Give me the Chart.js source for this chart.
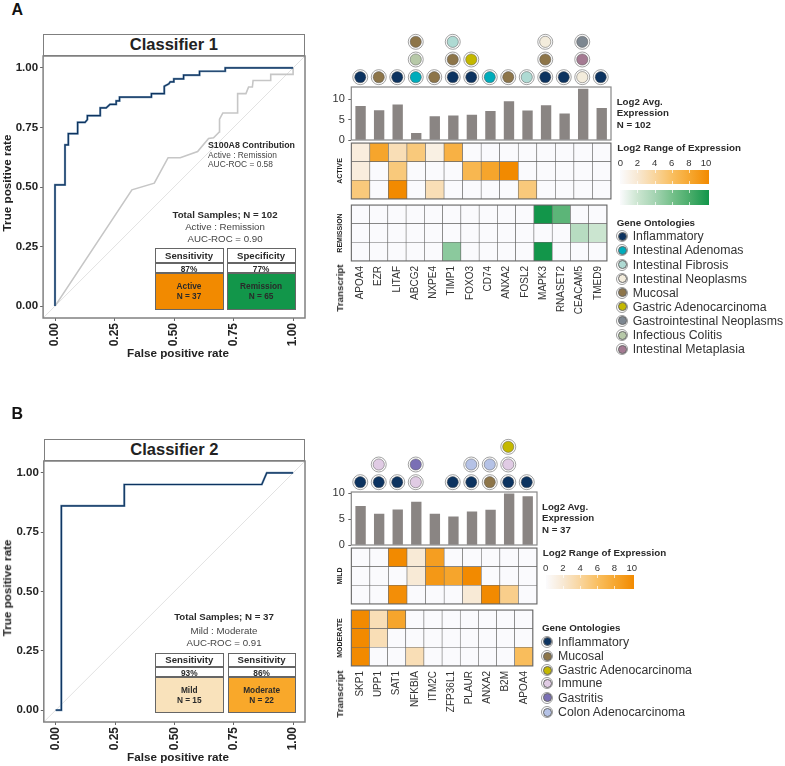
<!DOCTYPE html>
<html>
<head>
<meta charset="utf-8">
<script src="https://cdn.jsdelivr.net/npm/chart.js@4/dist/chart.umd.min.js"></script>
<style>
html, body { margin: 0; padding: 0; background: #fff; }
#page { position: relative; width: 785px; height: 766px; overflow: hidden; font-family: "Liberation Sans", Arial, sans-serif; color: #2a2a2a; }
#page canvas { position: absolute; }
.t { position: absolute; white-space: nowrap; line-height: 1; }
.b { position: absolute; box-sizing: border-box; }
</style>
</head>
<body>
<div id="page"></div>
<script>
// ROC curves
const roc1Fpr = [0, 0, .042, .042, .056, .056, .095, .095, .126, .136, .136, .19, .19, .215, .231, .257, .257, .271, .271, .405, .405, .459, .459, .478, .484, .499, .499, .54, .54, .607, .607, .715, .715, 1];
const roc1Tpr = [0, .509, .509, .677, .677, .724, .724, .771, .771, .783, .80, .80, .832, .832, .847, .847, .862, .862, .877, .877, .892, .892, .923, .933, .941, .941, .954, .954, .97, .97, .986, .986, 1, 1];
const s100a8Fpr = [0, .323, .417, .475, .526, .599, .645, .666, .69, .691, .705, .767, .767, .802, .813, .829, .832, .906, .906, 1, 1];
const s100a8Tpr = [0, .488, .516, .623, .623, .649, .704, .707, .731, .785, .811, .811, .892, .892, .92, .92, .947, .947, .973, .973, 1];
const roc2Fpr = [0, .024, .024, .289, .289, .868, .889, 1];
const roc2Tpr = [0, 0, .861, .861, .951, .951, 1, 1];
const chanceLine = [-0.05, 1.05];
const rocTicks = [0, .25, .5, .75, 1];

// classifier 1
const genes1 = ['APOA4', 'EZR', 'LITAF', 'ABCG2', 'NXPE4', 'TIMP1', 'FOXO3', 'CD74', 'ANXA2', 'FOSL2', 'MAPK3', 'RNASET2', 'CEACAM5', 'TMED9'];
const avg1 = [8.2, 7.2, 8.6, 1.6, 5.7, 5.9, 6.1, 7.0, 9.4, 7.1, 8.4, 6.4, 12.4, 7.7];
const active1 = [1.5, 8, 3, 5, 1.2, 7, null, null, null, null, null, null, null, null];
const active2 = [1.5, null, 5, null, null, null, 6.5, 8, 10, null, null, null, null, null];
const active3 = [5, null, 10, null, 3, null, null, null, null, 5, null, null, null, null];
const remission1 = [null, null, null, null, null, null, null, null, null, null, 10, 7, null, null];
const remission2 = [null, null, null, null, null, null, null, null, null, null, null, null, 3, 2];
const remission3 = [null, null, null, null, null, 5, null, null, null, null, 10, null, null, null];
const onto1 = [['Inflammatory'], ['Mucosal'], ['Inflammatory'], ['Intestinal Adenomas', 'Infectious Colitis', 'Mucosal'], ['Mucosal'],
    ['Inflammatory', 'Mucosal', 'Intestinal Fibrosis'], ['Inflammatory', 'Gastric Adenocarcinoma'], ['Intestinal Adenomas'], ['Mucosal'], ['Intestinal Fibrosis'],
    ['Inflammatory', 'Mucosal', 'Intestinal Neoplasms'], ['Inflammatory'], ['Intestinal Neoplasms', 'Intestinal Metaplasia', 'Gastrointestinal Neoplasms'], ['Inflammatory']];
const legend1 = ['Inflammatory', 'Intestinal Adenomas', 'Intestinal Fibrosis', 'Intestinal Neoplasms', 'Mucosal', 'Gastric Adenocarcinoma', 'Gastrointestinal Neoplasms', 'Infectious Colitis', 'Intestinal Metaplasia'];

// classifier 2
const genes2 = ['SKP1', 'UPP1', 'SAT1', 'NFKBIA', 'ITM2C', 'ZFP36L1', 'PLAUR', 'ANXA2', 'B2M', 'APOA4'];
const avg2 = [7.5, 6.0, 6.8, 8.3, 6.0, 5.45, 6.4, 6.75, 9.9, 9.35];
const mild1 = [null, null, 10, 1.8, 8.5, null, null, null, null, null];
const mild2 = [null, null, null, 1.8, 9, 8, 10, null, null, null];
const mild3 = [null, null, 9.7, null, null, null, 1.8, 10, 4.5, null];
const moderate1 = [10, 3, 8, null, null, null, null, null, null, null];
const moderate2 = [10, 3, null, null, null, null, null, null, null, null];
const moderate3 = [10, null, null, 3, null, null, null, null, null, 6];
const onto2 = [['Inflammatory'], ['Inflammatory', 'Immune'], ['Inflammatory'], ['Immune', 'Gastritis'], [], ['Inflammatory'],
    ['Inflammatory', 'Colon Adenocarcinoma'], ['Mucosal', 'Colon Adenocarcinoma'], ['Inflammatory', 'Immune', 'Gastric Adenocarcinoma'], ['Inflammatory']];
const legend2 = ['Inflammatory', 'Mucosal', 'Gastric Adenocarcinoma', 'Immune', 'Gastritis', 'Colon Adenocarcinoma'];

const rangeTicks = [0, 2, 4, 6, 8, 10];
const ontoColors = {
    'Inflammatory': '#0c3360', 'Intestinal Adenomas': '#00acbb', 'Intestinal Fibrosis': '#aedad3', 'Intestinal Neoplasms': '#f3ecdc',
    'Mucosal': '#8d7549', 'Gastric Adenocarcinoma': '#c4b800', 'Gastrointestinal Neoplasms': '#7d8791', 'Infectious Colitis': '#b7c9a8',
    'Intestinal Metaplasia': '#a47a92', 'Immune': '#e0cbe4', 'Gastritis': '#7a6fb5', 'Colon Adenocarcinoma': '#b5c2e6'
};
const orangeStops = ['#fbfbfd', '#f8e8d2', '#f9d49a', '#f9bd5c', '#f6a52c', '#f28a00'];
const greenStops = ['#fbfbfd', '#cbe5d0', '#a3d3b1', '#72bf88', '#46ab68', '#12964a'];

const page = document.getElementById('page');
const FONT = '"Liberation Sans", Arial, sans-serif';

function txt(s, x, y, size, o) {
    o = o || {};
    let el = document.createElement('div');
    el.className = 't';
    el.textContent = s;
    el.style.left = x + 'px';
    el.style.top = y + 'px';
    el.style.fontSize = size + 'px';
    if (o.bold) el.style.fontWeight = 'bold';
    if (o.color) el.style.color = o.color;
    let tx = o.center ? '-50%' : '0';
    el.style.transform = 'translate(' + tx + ',-50%)' + (o.rot ? ' rotate(-90deg)' : '');
    page.appendChild(el);
}

function rect(x0, y0, x1, y1, fill, border) {
    let el = document.createElement('div');
    el.className = 'b';
    el.style.left = x0 + 'px';
    el.style.top = y0 + 'px';
    el.style.width = (x1 - x0) + 'px';
    el.style.height = (y1 - y0) + 'px';
    if (fill) el.style.background = fill;
    if (border) el.style.border = border;
    page.appendChild(el);
    return el;
}

// colour for a value on a 0-10 ramp with stops every 2 units
function ramp(stops, v) {
    if (v === null) return '#fafafd';
    let p = Math.min(v / 2, stops.length - 1.001), i = Math.floor(p), f = p - i;
    let a = stops[i], b = stops[i + 1], out = [];
    for (let k = 1; k < 7; k += 2) {
        let ca = parseInt(a.substr(k, 2), 16), cb = parseInt(b.substr(k, 2), 16);
        out.push(Math.round(ca + (cb - ca) * f));
    }
    return 'rgb(' + out.join(',') + ')';
}

const plotFrame = {
    id: 'plotFrame',
    afterDatasetsDraw(chart, args, o) {
        let a = chart.chartArea, ctx = chart.ctx;
        ctx.save();
        ctx.strokeStyle = o.color;
        ctx.lineWidth = o.width;
        ctx.strokeRect(a.left, a.top, a.right - a.left, a.bottom - a.top);
        ctx.restore();
    }
};

// canvas sized so the chart area lands exactly on the plot box
function makeChart(box, m, config) {
    let c = document.createElement('canvas');
    c.style.left = (box.l - m.l) + 'px';
    c.style.top = (box.t - m.t) + 'px';
    c.width = Math.round(box.r - box.l + m.l + m.r);
    c.height = Math.round(box.b - box.t + m.t + m.b);
    page.appendChild(c);
    config.options.responsive = false;
    config.options.animation = false;
    config.options.layout = { autoPadding: false, padding: { top: m.t, right: m.r, left: config.options.scales.y.display === false ? m.l : 0, bottom: config.options.scales.x.display === false ? m.b : 0 } };
    if (config.options.scales.y.display !== false) config.options.scales.y.afterFit = s => { s.width = m.l; };
    if (config.options.scales.x.display !== false) config.options.scales.x.afterFit = s => { s.height = m.b; };
    config.options.plugins = Object.assign({ legend: { display: false }, tooltip: { enabled: false } }, config.options.plugins);
    config.plugins = (config.plugins || []).concat([plotFrame]);
    return new Chart(c, config);
}

function xy(xs, ys) {
    return xs.map((x, i) => ({ x: x, y: ys[i] }));
}

function rocChart(box, curves) {
    let axis = () => ({
        type: 'linear', min: -0.05, max: 1.05,
        afterBuildTicks: s => { s.ticks = rocTicks.map(v => ({ value: v })); },
        grid: { display: true, drawOnChartArea: false, drawTicks: true, tickLength: 3, tickColor: '#666', tickWidth: 1 },
        border: { display: false }
    });
    let x = axis();
    x.ticks = { color: '#222', font: { family: FONT, size: 12, weight: 'bold' }, minRotation: 90, maxRotation: 90, padding: 2, autoSkip: false, callback: v => v.toFixed(2) };
    let y = axis();
    y.ticks = { color: '#222', font: { family: FONT, size: 11.5, weight: 'bold' }, padding: 2, autoSkip: false, callback: v => v.toFixed(2) };
    // first dataset is drawn on top
    let datasets = curves.concat([{ data: xy(chanceLine, chanceLine), borderColor: '#e2e2e2', borderWidth: 1, pointRadius: 0, showLine: true }]);
    return makeChart(box, { l: box.l, t: 10, r: 10, b: 32 }, {
        type: 'scatter',
        data: { datasets: datasets },
        options: { scales: { x: x, y: y }, plugins: { plotFrame: { color: '#808080', width: 1.5 } } }
    });
}

function barChart(box, genes, values, top) {
    return makeChart(box, { l: 26.3, t: 14, r: 4, b: 14 }, {
        type: 'bar',
        data: { labels: genes, datasets: [{ data: values, backgroundColor: '#8a8583', barThickness: 9.7 }] },
        options: {
            scales: {
                x: { display: false },
                y: {
                    min: 0, max: top,
                    afterBuildTicks: s => { s.ticks = [0, 5, 10].map(v => ({ value: v })); },
                    grid: { display: true, drawOnChartArea: false, drawTicks: true, tickLength: 3, tickColor: '#666', tickWidth: 1 },
                    border: { display: false },
                    ticks: { color: '#333', font: { family: FONT, size: 11 }, padding: 3.5 }
                }
            },
            plugins: { plotFrame: { color: '#888', width: 1.2 } }
        }
    });
}

function heatChart(box, genes, rows, stops, title, withLabels) {
    // stacked unit bars, first row on top
    let datasets = rows.slice().reverse().map(row => ({
        data: row.map(() => 1),
        backgroundColor: row.map(v => ramp(stops, v)),
        borderColor: '#666',
        borderWidth: 0.6,
        borderSkipped: false,
        barPercentage: 1,
        categoryPercentage: 1
    }));
    return makeChart(box, { l: 15.3, t: 3, r: 4, b: withLabels ? 62 : 2 }, {
        type: 'bar',
        data: { labels: genes, datasets: datasets },
        options: {
            scales: {
                x: withLabels ? {
                    stacked: true,
                    grid: { display: false, drawTicks: false }, border: { display: false },
                    ticks: { color: '#333', font: { family: FONT, size: 10 }, minRotation: 90, maxRotation: 90, padding: 5, autoSkip: false }
                } : { stacked: true, display: false },
                y: {
                    stacked: true, min: 0, max: 3,
                    grid: { display: false, drawTicks: false }, border: { display: false },
                    ticks: { display: false },
                    title: { display: true, text: title, color: '#222', font: { family: FONT, size: 7, weight: 'bold' }, padding: 0 }
                }
            },
            plugins: { plotFrame: { color: '#666', width: 1 } }
        }
    });
}

function ontologyChart(box, genes, stacks) {
    let points = [], fills = [];
    stacks.forEach((names, i) => names.forEach((name, level) => {
        points.push({ x: genes[i], y: level + 1 });
        fills.push(ontoColors[name]);
    }));
    return makeChart(box, { l: 4, t: 4, r: 4, b: 4 }, {
        type: 'line',
        data: {
            labels: genes,
            datasets: [
                { data: points, showLine: false, clip: false, pointRadius: 5.6, pointBackgroundColor: fills, pointBorderColor: '#555', pointBorderWidth: 0.5 },
                { data: points, showLine: false, clip: false, pointRadius: 7.5, pointBackgroundColor: '#fff', pointBorderColor: '#8a8a8a', pointBorderWidth: 0.8 }
            ]
        },
        options: {
            scales: {
                x: { type: 'category', display: false, offset: true },
                y: { display: false, min: 0.5, max: 3.5 }
            },
            plugins: { plotFrame: { color: 'rgba(0,0,0,0)', width: 0 } }
        }
    });
}

function strip(box, top, title) {
    let el = rect(box.l, top, box.r, box.t, '#fff', '1.5px solid #7f7f7f');
    el.style.textAlign = 'center';
    el.style.fontSize = '16.5px';
    el.style.fontWeight = 'bold';
    el.style.lineHeight = (box.t - top - 3) + 'px';
    el.style.color = '#222';
    el.textContent = title;
}

function statBox(x0, x1, y0, y1, y2, y3, head, pct, fill, group, n) {
    let edge = '1px solid #666';
    rect(x0, y0, x1, y1, '#fff', edge);
    rect(x0, y1, x1, y2, '#fff', edge);
    rect(x0, y2, x1, y3, fill, edge);
    let cx = (x0 + x1) / 2;
    txt(head, cx, (y0 + y1) / 2, 9.6, { bold: true, center: true });
    txt(pct, cx, (y1 + y2) / 2 + 0.5, 8.3, { bold: true, center: true });
    txt(group, cx, (y2 + y3) / 2 - 5, 8.3, { bold: true, center: true });
    txt(n, cx, (y2 + y3) / 2 + 5, 8.3, { bold: true, center: true });
}

function colorBar(x0, x1, y0, y1, stops) {
    let el = rect(x0, y0, x1, y1);
    el.style.background = 'linear-gradient(to right,' + stops.join(',') + ')';
    rangeTicks.slice(1, -1).forEach(v => {
        let x = x0 + 0.3 + (x1 - x0) * 0.9635 * v / 10;
        rect(x, y0, x + 0.6, y0 + 3, 'rgba(255,255,255,.7)');
        rect(x, y1 - 3, x + 0.6, y1, 'rgba(255,255,255,.7)');
    });
}

function legendRow(name, cx, cy, textX) {
    let el = rect(cx - 6, cy - 6, cx + 6, cy + 6, '#fff', '1px solid #999');
    el.style.borderRadius = '50%';
    let dot = rect(cx - 4.5, cy - 4.5, cx + 4.5, cy + 4.5, ontoColors[name], '0.5px solid #666');
    dot.style.borderRadius = '50%';
    txt(name, textX, cy, 12.3, { color: '#333' });
}

// ---- panel A ----
txt('A', 11.5, 9.5, 16, { bold: true, color: '#111' });
const rocBoxA = { l: 43.1, t: 56.1, r: 304.6, b: 318 };
rocChart(rocBoxA, [
    { data: xy(roc1Fpr, roc1Tpr), borderColor: '#0c3360', borderWidth: 1.2, pointRadius: 0, showLine: true },
    { data: xy(roc1Fpr, roc1Tpr), borderColor: '#7c9ab6', borderWidth: 2.2, pointRadius: 0, showLine: true },
    { data: xy(s100a8Fpr, s100a8Tpr), borderColor: '#c6c6c6', borderWidth: 1.6, pointRadius: 0, showLine: true }
]);
strip(rocBoxA, 34, 'Classifier 1');
txt('True positive rate', 6.5, 183, 11.7, { bold: true, center: true, rot: true, color: '#222' });
txt('False positive rate', 178, 352.7, 11.7, { bold: true, center: true, color: '#222' });
txt('S100A8 Contribution', 208, 145, 8.8, { bold: true });
txt('Active : Remission', 208, 154.5, 8.4, { color: '#444' });
txt('AUC-ROC = 0.58', 208, 164, 8.4, { color: '#444' });
txt('Total Samples; N = 102', 225, 214.5, 9.7, { bold: true, center: true });
txt('Active : Remission', 225, 226.5, 9.7, { center: true, color: '#444' });
txt('AUC-ROC = 0.90', 225, 238.5, 9.7, { center: true, color: '#444' });
statBox(154.5, 223.5, 248, 263, 273, 309.5, 'Sensitivity', '87%', '#f28a00', 'Active', 'N = 37');
statBox(226.5, 295.7, 248, 263, 273, 309.5, 'Specificity', '77%', '#12964a', 'Remission', 'N = 65');

ontologyChart({ l: 351.3, t: 33, r: 610.7, b: 86 }, genes1, onto1);
barChart({ l: 351.3, t: 86.7, r: 610.7, b: 139.3 }, genes1, avg1, 12.93);
heatChart({ l: 351.3, t: 143.3, r: 610.7, b: 199 }, genes1, [active1, active2, active3], orangeStops, 'ACTIVE', false);
heatChart({ l: 351.3, t: 205, r: 610.7, b: 260.7 }, genes1, [remission1, remission2, remission3], greenStops, 'REMISSION', true);
txt('Transcript', 340, 288.3, 9.8, { bold: true, center: true, rot: true });

txt('Log2 Avg.', 616.7, 102, 9.7, { bold: true });
txt('Expression', 616.7, 113.3, 9.7, { bold: true });
txt('N = 102', 616.7, 125.3, 9.7, { bold: true });
txt('Log2 Range of Expression', 617.3, 147.7, 9.8, { bold: true });
rangeTicks.forEach((v, i) => txt(String(v), 620.3 + i * 17.15, 163.3, 9.5, { center: true, color: '#333' }));
colorBar(620, 709, 170, 184.3, orangeStops);
colorBar(620, 709, 190.3, 205, greenStops);
txt('Gene Ontologies', 616.7, 223, 9.8, { bold: true });
legend1.forEach((name, i) => legendRow(name, 622, 236.3 + i * 14.1, 632.7));

// ---- panel B ----
txt('B', 11.5, 414, 16, { bold: true, color: '#111' });
const rocBoxB = { l: 43.8, t: 461.4, r: 304.9, b: 722.6 };
rocChart(rocBoxB, [
    { data: xy(roc2Fpr, roc2Tpr), borderColor: '#0c3360', borderWidth: 1.2, pointRadius: 0, showLine: true },
    { data: xy(roc2Fpr, roc2Tpr), borderColor: '#7c9ab6', borderWidth: 2.2, pointRadius: 0, showLine: true }
]);
strip(rocBoxB, 439.3, 'Classifier 2');
txt('True positive rate', 6.5, 588.3, 11.7, { bold: true, center: true, rot: true, color: '#222' });
txt('False positive rate', 178, 757.3, 11.7, { bold: true, center: true, color: '#222' });
txt('Total Samples; N = 37', 224, 617.3, 9.7, { bold: true, center: true });
txt('Mild : Moderate', 224, 631, 9.7, { center: true, color: '#444' });
txt('AUC-ROC = 0.91', 224, 642.7, 9.7, { center: true, color: '#444' });
statBox(155, 223.5, 652.7, 667.3, 677.3, 713.5, 'Sensitivity', '93%', '#f9e2bb', 'Mild', 'N = 15');
statBox(227.5, 295.7, 652.7, 667.3, 677.3, 713.5, 'Sensitivity', '86%', '#f9a82a', 'Moderate', 'N = 22');

ontologyChart({ l: 351.3, t: 438, r: 536.7, b: 490.5 }, genes2, onto2);
barChart({ l: 351.3, t: 492, r: 536.7, b: 544.7 }, genes2, avg2, 10.25);
heatChart({ l: 351.3, t: 548, r: 536.7, b: 603.7 }, genes2, [mild1, mild2, mild3], orangeStops, 'MILD', false);
heatChart({ l: 351.3, t: 610, r: 536.7, b: 665.7 }, genes2, [moderate1, moderate2, moderate3], orangeStops, 'MODERATE', true);
txt('Transcript', 340, 694, 9.8, { bold: true, center: true, rot: true });

txt('Log2 Avg.', 542, 507, 9.7, { bold: true });
txt('Expression', 542, 518.3, 9.7, { bold: true });
txt('N = 37', 542, 530.3, 9.7, { bold: true });
txt('Log2 Range of Expression', 542.7, 552.7, 9.8, { bold: true });
rangeTicks.forEach((v, i) => txt(String(v), 545.7 + i * 17.2, 568.3, 9.5, { center: true, color: '#333' }));
colorBar(545.7, 634, 575, 589.3, orangeStops);
txt('Gene Ontologies', 542, 628, 9.8, { bold: true });
const legend2Y = [641.7, 656, 670.3, 683.3, 697.7, 712.3];
legend2.forEach((name, i) => legendRow(name, 547, legend2Y[i], 558));
</script>
</body>
</html>
